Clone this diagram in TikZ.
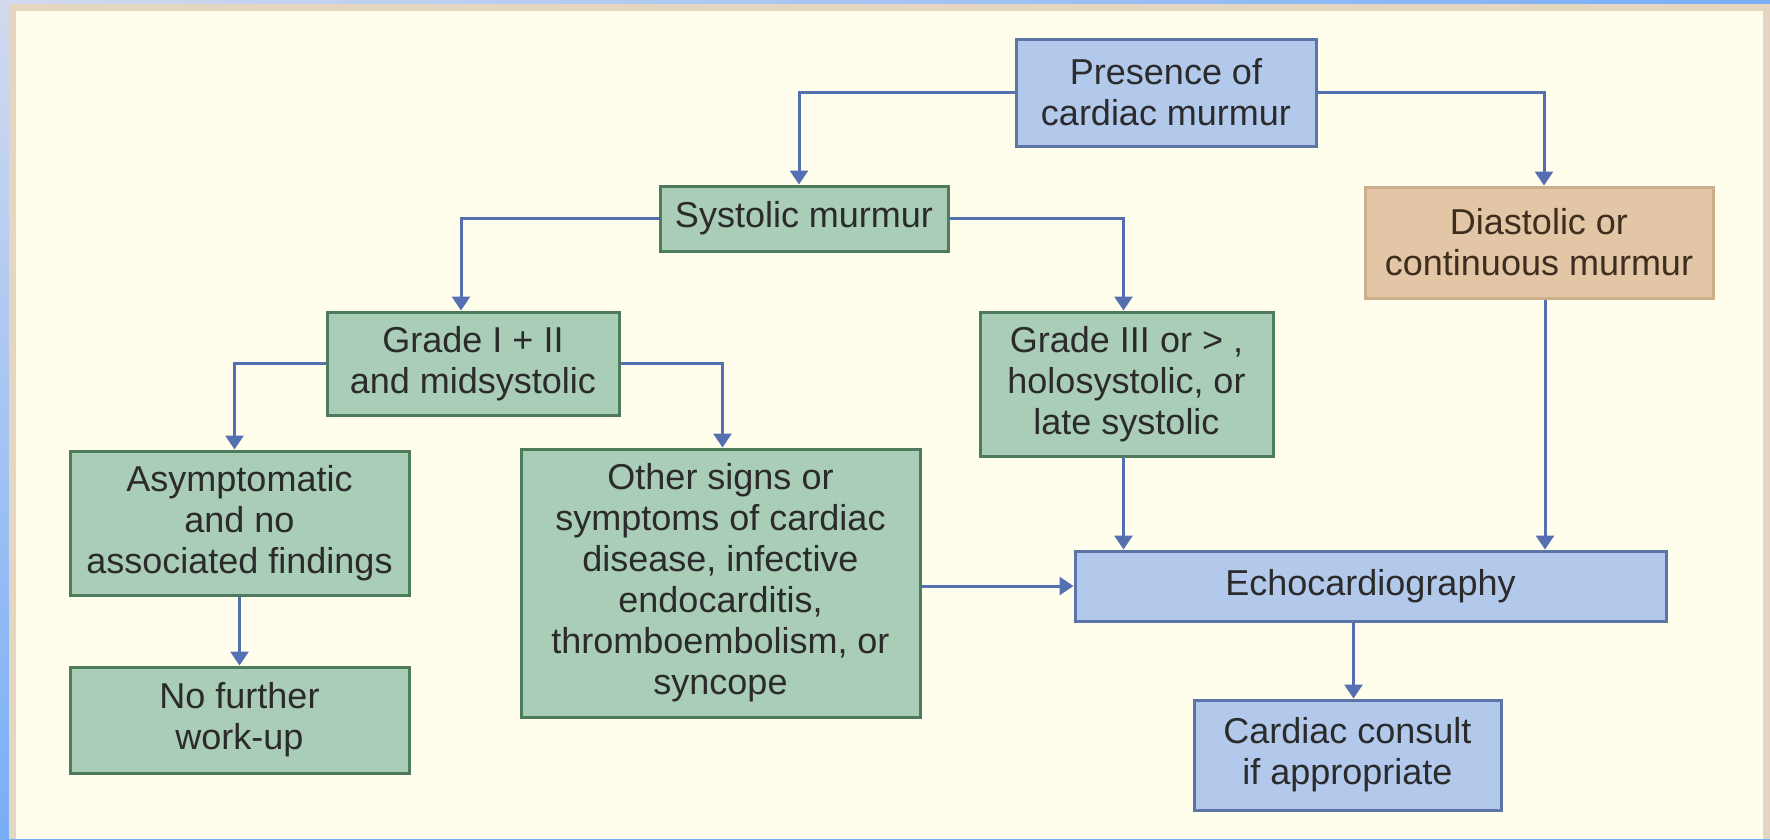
\documentclass[tikz,border=0pt]{standalone}
\usepackage{fontspec}
\setmainfont{Liberation Sans}
\usetikzlibrary{arrows.meta,shadings}
\definecolor{bluefill}{HTML}{B3C9EC}
\definecolor{blueline}{HTML}{5B76A6}
\definecolor{greenfill}{HTML}{A9CDB6}
\definecolor{greenline}{HTML}{4C7C5C}
\definecolor{tanfill}{HTML}{E3C6A5}
\definecolor{tanline}{HTML}{CCAE8A}
\definecolor{arrowc}{HTML}{5470B0}
\definecolor{cream}{HTML}{FFFEEC}
\definecolor{frametan}{HTML}{E4D6C0}
\definecolor{txt}{HTML}{2B2B2B}
\definecolor{tantxt}{HTML}{3E2E20}
\definecolor{bgblueA}{HTML}{D2DAEE}
\definecolor{bgblueB}{HTML}{78AEF8}
\begin{document}
\begin{tikzpicture}[x=1pt,y=-1pt,
  box/.style={draw, line width=3pt, align=center, inner sep=0pt, font=\fontsize{36}{41}\selectfont, text=txt},
  bbox/.style={box, fill=bluefill, draw=blueline},
  gbox/.style={box, fill=greenfill, draw=greenline},
  tbox/.style={box, fill=tanfill, draw=tanline, text=tantxt},
  conn/.style={draw=arrowc, line width=3pt, -{Triangle[width=18pt,length=14pt]}}]
\useasboundingbox (0,0) rectangle (1770,839);
\shade[upper left=bgblueA, upper right=bgblueB, lower left=bgblueB, lower right=bgblueB] (0,0) rectangle (1770,839);
\fill[frametan] (9,4) rectangle (1770,839);
\fill[cream] (16,11) rectangle (1763,839);

\node[bbox, minimum width=300pt, minimum height=107pt] (pres) at (1166,92.5) {Presence of\\cardiac murmur};
\node[gbox, minimum width=288pt, minimum height=65pt] (syst) at (804,218.5) {Systolic murmur};
\node[tbox, minimum width=348pt, minimum height=111pt] (dia) at (1539,242.5) {Diastolic or\\continuous murmur};
\node[gbox, minimum width=292pt, minimum height=103pt] (g12) at (473,363.5) {Grade I + II\\and midsystolic};
\node[gbox, minimum width=293pt, minimum height=144pt] (g3) at (1126.5,384) {Grade III or > ,\\holosystolic, or\\late systolic};
\node[gbox, minimum width=339pt, minimum height=144pt] (asym) at (239.5,523) {Asymptomatic\\and no\\associated findings};
\node[gbox, minimum width=399pt, minimum height=268pt] (other) at (720.5,583) {Other signs or\\symptoms of cardiac\\disease, infective\\endocarditis,\\thromboembolism, or\\syncope};
\node[bbox, minimum width=591pt, minimum height=70pt] (echo) at (1370.5,586) {Echocardiography};
\node[gbox, minimum width=339pt, minimum height=106pt] (nofur) at (239.5,720) {No further\\work-up};
\node[bbox, minimum width=307pt, minimum height=110pt] (cons) at (1347.5,755) {Cardiac consult\\if appropriate};

\draw[conn] (pres.west) -| ([xshift=-5pt]syst.north);
\draw[conn] (pres.east) -| ([xshift=5pt]dia.north);
\draw[conn] (syst.west) -| ([xshift=-12pt]g12.north);
\draw[conn] (syst.east) -| ([xshift=-3pt]g3.north);
\draw[conn] (g12.west) -| ([xshift=-5pt]asym.north);
\draw[conn] (g12.east) -| ([xshift=2pt]other.north);
\draw[conn] (asym.south) -- (nofur.north);
\draw[conn] (other.east |- echo.west) -- (echo.west);
\draw[conn] ([xshift=-3pt]g3.south) -- ([xshift=-3pt]g3.south |- echo.north);
\draw[conn] ([xshift=6pt]dia.south) -- ([xshift=6pt]dia.south |- echo.north);
\draw[conn] ([xshift=6pt]cons.north |- echo.south) -- ([xshift=6pt]cons.north);
\end{tikzpicture}
\end{document}
